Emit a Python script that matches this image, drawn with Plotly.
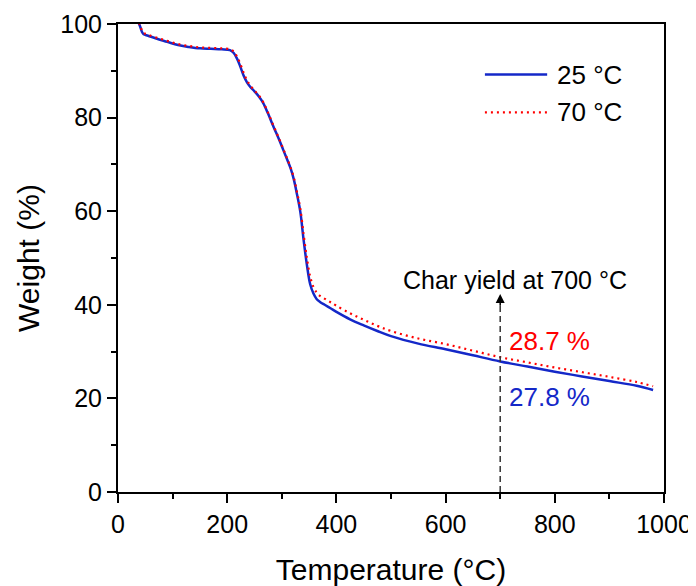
import plotly.graph_objects as go

temp_25 = [38, 41, 44, 47, 55, 70, 90, 110, 130, 150, 170, 190, 205, 212, 218, 224, 230, 236, 242,
           250, 258, 266, 275, 285, 295, 303, 310, 316, 322, 328, 334, 340, 346, 352, 358, 364, 370,
           380, 390, 400, 425, 450, 475, 500, 550, 600, 650, 700, 750, 800, 850, 900, 950, 980]
weight_25 = [100.2, 99.3, 98.3, 97.8, 97.5, 96.9, 96.2, 95.5, 95.1, 94.8, 94.7, 94.6, 94.4, 93.8,
             92.6, 90.9, 89.0, 87.6, 86.6, 85.6, 84.5, 83.1, 80.8, 78.0, 75.3, 73.0, 71.0, 69.2,
             66.8, 63.5, 59.8, 53.8, 48.5, 44.4, 42.4, 41.2, 40.6, 39.9, 39.2, 38.5, 36.9, 35.6,
             34.4, 33.3, 31.7, 30.5, 29.2, 27.9, 26.8, 25.7, 24.7, 23.7, 22.7, 21.8]

temp_70 = temp_25
weight_70 = [100.3, 99.5, 98.6, 98.1, 97.7, 97.1, 96.4, 95.7, 95.3, 95.0, 94.9, 94.8, 94.6, 94.1,
             93.0, 91.5, 89.6, 88.0, 86.9, 85.8, 84.7, 83.3, 81.0, 78.2, 75.5, 73.2, 71.2, 69.4,
             67.2, 64.0, 60.5, 55.0, 50.0, 46.0, 43.8, 42.6, 41.9, 41.2, 40.5, 39.8, 38.2, 36.8,
             35.5, 34.4, 32.8, 31.6, 30.2, 28.8, 27.7, 26.6, 25.6, 24.6, 23.5, 22.6]

series_names = ["25 °C", "70 °C"]
char_temp = 700
char_yields = [27.8, 28.7]

FONT = "Arial, Liberation Sans, sans-serif"
BLUE = "#1428C8"
RED = "#FF0000"
BLUE_LINE = dict(color=BLUE, width=2.5)
RED_LINE = dict(color=RED, width=2.2, dash="2px,4px")

fig = go.Figure()
fig.add_trace(go.Scatter(x=temp_25, y=weight_25, mode="lines", name=series_names[0],
                         line=BLUE_LINE, line_shape="spline", showlegend=False))
fig.add_trace(go.Scatter(x=temp_70, y=weight_70, mode="lines", name=series_names[1],
                         line=RED_LINE, line_shape="spline", showlegend=False))

# legend (drawn in paper coordinates)
for i, (name, ln) in enumerate(zip(series_names, [BLUE_LINE, RED_LINE])):
    yy = 0.892 - i * 0.081
    fig.add_shape(type="line", xref="paper", yref="paper", x0=0.672, x1=0.786, y0=yy, y1=yy,
                  line=ln)
    fig.add_annotation(xref="paper", yref="paper", x=0.800, y=yy, xanchor="left", yanchor="middle",
                       showarrow=False, text=name,
                       font=dict(family=FONT, size=26, color="#000000"))

# dashed marker line at 700 °C with arrow
fig.add_shape(type="line", x0=char_temp, x1=char_temp, y0=0, y1=41, xref="x", yref="y",
              line=dict(color="#333333", width=1.5, dash="6px,4px"))
fig.add_annotation(x=char_temp, y=42.3, ax=char_temp, ay=39.5, axref="x", ayref="y",
                   xref="x", yref="y", showarrow=True, arrowhead=2, arrowsize=1.2,
                   arrowwidth=1.5, arrowcolor="#000000", text="")
fig.add_annotation(x=727, y=45.2, xref="x", yref="y", showarrow=False,
                   text=f"Char yield at {char_temp} °C",
                   font=dict(family=FONT, size=25, color="#000000"))
fig.add_annotation(x=713, y=32.3, xref="x", yref="y", showarrow=False, xanchor="left",
                   text=f"{char_yields[1]} %", font=dict(family=FONT, size=26, color=RED))
fig.add_annotation(x=713, y=20.3, xref="x", yref="y", showarrow=False, xanchor="left",
                   text=f"{char_yields[0]} %", font=dict(family=FONT, size=26, color=BLUE))

axis_common = dict(showline=True, linecolor="#000000", linewidth=2, mirror=True,
                   ticks="outside", ticklen=9, tickwidth=1.5, tickcolor="#000000",
                   showgrid=False, zeroline=False, automargin=False,
                   tickfont=dict(family=FONT, size=25, color="#000000"))

fig.update_xaxes(range=[0, 1000], dtick=200, tick0=0,
                 minor=dict(ticks="outside", ticklen=5, dtick=100, tickcolor="#000000", tickwidth=1.5),
                 title=dict(text="Temperature (°C)", font=dict(family=FONT, size=30, color="#000000"),
                            standoff=32),
                 **axis_common)
fig.update_yaxes(range=[0, 100], dtick=20, tick0=0,
                 minor=dict(ticks="outside", ticklen=5, dtick=10, tickcolor="#000000", tickwidth=1.5),
                 title=dict(text="Weight (%)", font=dict(family=FONT, size=30, color="#000000"),
                            standoff=12),
                 **axis_common)

# the page body adds an 8px offset; size and margins compensate so nothing scrolls or clips
fig.update_layout(
    width=688, height=578,
    margin=dict(l=110, r=32, t=16, b=94),
    paper_bgcolor="white", plot_bgcolor="white",
    showlegend=False,
    font=dict(family=FONT),
)

fig.write_html("out.html")
